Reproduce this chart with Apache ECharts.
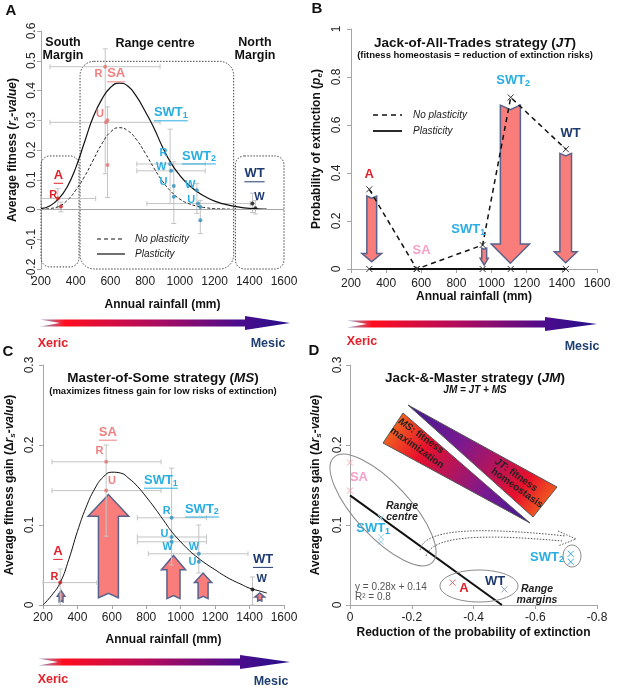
<!DOCTYPE html>
<html>
<head>
<meta charset="utf-8">
<script src="https://cdn.jsdelivr.net/npm/echarts@6/dist/echarts.min.js"></script>
<style>
	html, body { margin: 0; padding: 0; background: #fff; }
	#main { width: 620px; height: 688px; }
</style>
</head>
<body>
<div id="main"></div>
<script>
	// ---- data ----
	// panel A : fitted curves (annual rainfall, mm)
	var rain = [200, 250, 300, 350, 400, 450, 500, 550, 600, 650, 700, 750, 800, 850, 900, 950, 1000, 1050, 1100, 1150, 1200, 1250, 1300, 1350, 1400, 1450, 1500];
	var fitPlastic = [0.003, 0.012, 0.035, 0.075, 0.14, 0.225, 0.31, 0.37, 0.41, 0.425, 0.415, 0.38, 0.33, 0.275, 0.21, 0.155, 0.115, 0.083, 0.06, 0.042, 0.028, 0.019, 0.012, 0.007, 0.004, 0.002, 0.001];
	var fitNoPlastic = [0, 0.003, 0.01, 0.03, 0.065, 0.11, 0.165, 0.22, 0.26, 0.275, 0.265, 0.235, 0.19, 0.14, 0.095, 0.06, 0.035, 0.02, 0.011, 0.006, 0.003, 0.002, 0.001, 0, 0, 0, 0];
	// panel A points : x, y, xLow, xHigh, yLow, yHigh, population
	var pointsA = [
		[297, 0.037, 200, 515, 0.005, 0.07, 'A'],
		[315, 0.01, null, null, -0.008, 0.025, 'A'],
		[570, 0.48, 252, 886, 0.12, 0.54, 'SA'],
		[575, 0.293, 252, 886, null, null, 'SA'],
		[583, 0.30, null, null, 0.04, 0.345, 'SA'],
		[583, 0.15, null, null, null, null, 'SA'],
		[944, 0.153, 752, 1146, 0.02, 0.27, 'SWT1'],
		[950, 0.13, 752, 1146, null, null, 'SWT1'],
		[965, 0.079, null, null, -0.047, 0.16, 'SWT1'],
		[965, 0.043, null, null, null, null, 'SWT1'],
		[1098, 0.065, null, null, -0.013, 0.088, 'SWT2'],
		[1105, 0.02, 810, 1405, null, null, 'SWT2'],
		[1118, 0.008, null, null, null, null, 'SWT2'],
		[1118, -0.036, null, null, -0.081, 0.031, 'SWT2'],
		[1418, 0.02, null, null, -0.01, 0.055, 'WT'],
		[1435, 0.004, null, null, -0.015, 0.03, 'WT']
	];
	var tagsA = [[271, 0.048, 'R', 'A'], [531, 0.456, 'R', 'SA'], [540, 0.32, 'U', 'SA'], [905, 0.19, 'R', 'SWT1'], [892, 0.144, 'W', 'SWT1'], [905, 0.093, 'U', 'SWT1'], [1060, 0.084, 'W', 'SWT2'], [1065, 0.031, 'U', 'SWT2'], [1458, 0.043, 'W', 'WT']];
	var namesA = [[300, 0.115, 'A'], [633, 0.456, 'SA'], [948, 0.325, 'SWT1'], [1110, 0.18, 'SWT2'], [1430, 0.12, 'WT']];
	// zones : xFrom, xTo, yFrom, yTo
	var zonesA = [[200, 419, -0.193, 0.18], [425, 1310, -0.2, 0.498], [1320, 1600, -0.2, 0.18]];

	// panel B : probability of extinction
	var rainB = [304, 574, 949, 1109, 1423];
	var extNoPlastic = [0.332, 0, 0.1, 0.715, 0.499];
	var extPlastic = [0, 0, 0, 0, 0];
	// arrows : x, from, head start, tip, shaft half width, head half width (mm)
	var arrowsB = [[318, 0.304, 0.065, 0.03, 28, 56], [958, 0.087, 0.045, 0.017, 14, 23], [1107, 0.683, 0.104, 0.024, 57, 109], [1422, 0.482, 0.072, 0.026, 33, 65]];
	var namesB = [[304, 0.395, 'A'], [602, 0.076, 'SA'], [867, 0.165, 'SWT1'], [1123, 0.787, 'SWT2'], [1450, 0.565, 'WT']];

	// panel C : fitness gain
	var fitGain = [0, 0.012, 0.028, 0.057, 0.092, 0.122, 0.145, 0.16, 0.166, 0.165, 0.158, 0.148, 0.135, 0.121, 0.106, 0.091, 0.079, 0.068, 0.059, 0.051, 0.044, 0.037, 0.031, 0.026, 0.021, 0.018, 0.015];
	var pointsC = [
		[300, 0.028, 200, 513, 0, 0.045, 'A'],
		[567, 0.179, 252, 886, 0.086, 0.2, 'SA'],
		[567, 0.143, 252, 886, null, null, 'SA'],
		[947, 0.109, 748, 1150, 0.05, 0.171, 'SWT1'],
		[947, 0.085, 748, 1150, null, null, 'SWT1'],
		[947, 0.079, 748, 1150, null, null, 'SWT1'],
		[1105, 0.064, 812, 1391, 0.04, 0.1, 'SWT2'],
		[1105, 0.054, null, null, null, null, 'SWT2'],
		[1417, 0.0195, null, null, 0, 0.035, 'WT']
	];
	var arrowsC = [[305, 0.004, 0.011, 0.018, 11, 22], [580, 0.009, 0.111, 0.138, 58, 118], [958, 0.008, 0.044, 0.062, 38, 70], [1130, 0.008, 0.028, 0.04, 29, 50], [1459, 0.005, 0.01, 0.015, 12, 28]];
	var tagsC = [[266, 0.035, 'R', 'A'], [528, 0.192, 'R', 'SA'], [600, 0.155, 'U', 'SA'], [918, 0.117, 'R', 'SWT1'], [905, 0.089, 'U', 'SWT1'], [924, 0.073, 'W', 'SWT1'], [1077, 0.073, 'W', 'SWT2'], [1069, 0.054, 'U', 'SWT2'], [1471, 0.033, 'W', 'WT']];
	var namesC = [[287, 0.067, 'A'], [577, 0.216, 'SA'], [885, 0.156, 'SWT1'], [1123, 0.12, 'SWT2'], [1478, 0.057, 'WT']];

	// panel D : gain vs reduction of extinction probability
	var pointsD = [[0, 0.178, 'SA'], [0, 0.143, 'SA'], [-0.1, 0.109, 'SWT1'], [-0.1, 0.085, 'SWT1'], [-0.1, 0.079, 'SWT1'], [-0.715, 0.064, 'SWT2'], [-0.715, 0.054, 'SWT2'], [-0.332, 0.028, 'A'], [-0.5, 0.0195, 'WT']];
	var regressionD = [[0, 0.137], [-0.492, 0]];
	var namesD = [[-0.029, 0.159, 'SA'], [-0.075, 0.096, 'SWT1'], [-0.638, 0.06, 'SWT2'], [-0.369, 0.021, 'A'], [-0.47, 0.029, 'WT']];

	// ---- styles ----
	var FONT = '"Liberation Sans", Arial, sans-serif';
	var nameCol = {A: '#e3212b', SA: '#f08080', SWT1: '#2aaee2', SWT2: '#2aaee2', WT: '#1f3a6e'};
	var nameColPink = {A: '#e3212b', SA: '#f4a0c8', SWT1: '#2aaee2', SWT2: '#2aaee2', WT: '#1f3a6e'};
	var dotCol = {A: '#cc2020', SA: '#e07474', SWT1: '#2a8fbf', SWT2: '#2a8fbf', WT: '#111111'};
	var crossCol = {A: '#ee6464', SA: '#f5a8b8', SWT1: '#9fd8f0', SWT2: '#35aade', WT: '#8a9ab8'};

	var cv = document.createElement('canvas').getContext('2d');
	function tw(str, size) {
		cv.font = 'bold ' + size + 'px ' + FONT;
		return cv.measureText(str).width;
	}
	function seg(x1, y1, x2, y2, st) {
		return {type: 'line', shape: {x1: x1, y1: y1, x2: x2, y2: y2}, style: st};
	}

	function nameRender(list, cols, underline) {
		return function (params, api) {
			var d = list[params.dataIndex];
			var p = api.coord([d[0], d[1]]);
			var m = d[2].match(/^(\D+)(\d?)$/);
			var col = cols[d[2]];
			var txt = '{m|' + m[1] + '}' + (m[2] ? '{s|' + m[2] + '}' : '');
			var w = tw(m[1], 13) + (m[2] ? tw(m[2], 9) : 0);
			var ch = [{
				type: 'text', x: p[0], y: p[1],
				style: {
					text: txt, align: 'center', verticalAlign: 'middle', fill: col,
					rich: {
						m: {fontSize: 13, fontWeight: 'bold', fontFamily: FONT, fill: col, lineHeight: 15},
						s: {fontSize: 9, fontWeight: 'bold', fontFamily: FONT, fill: col, lineHeight: 9, verticalAlign: 'bottom'}
					}
				}
			}];
			if (underline) {
				ch.push(seg(p[0] - w / 2, p[1] + 8, p[0] + w / 2, p[1] + 8, {stroke: col, lineWidth: 1}));
			}
			return {type: 'group', children: ch};
		};
	}
	function tagRender(list) {
		return function (params, api) {
			var d = list[params.dataIndex];
			var p = api.coord([d[0], d[1]]);
			return {type: 'text', x: p[0], y: p[1], style: {text: d[2], align: 'center', verticalAlign: 'middle', fill: nameCol[d[3]], fontSize: 11, fontWeight: 'bold', fontFamily: FONT}};
		};
	}
	function errRender(list) {
		return function (params, api) {
			var d = list[params.dataIndex], ch = [], cap = 2.5;
			var st = {stroke: '#c4c4c4', lineWidth: 1};
			if (d[2] != null) {
				var a = api.coord([d[2], d[1]]), b = api.coord([d[3], d[1]]);
				ch.push(seg(a[0], a[1], b[0], b[1], st), seg(a[0], a[1] - cap, a[0], a[1] + cap, st), seg(b[0], b[1] - cap, b[0], b[1] + cap, st));
			}
			if (d[4] != null) {
				var c = api.coord([d[0], d[4]]), e = api.coord([d[0], d[5]]);
				ch.push(seg(c[0], c[1], e[0], e[1], st), seg(c[0] - cap, c[1], c[0] + cap, c[1], st), seg(e[0] - cap, e[1], e[0] + cap, e[1], st));
			}
			return {type: 'group', children: ch};
		};
	}
	function arrowRender(list) {
		return function (params, api) {
			var d = list[params.dataIndex];
			var c0 = api.coord([d[0], d[1]]), chd = api.coord([d[0], d[2]]), ct = api.coord([d[0], d[3]]);
			var hw = api.size([d[4], 0])[0], hh = api.size([d[5], 0])[0];
			var x = c0[0], dir = ct[1] > c0[1] ? 1 : -1;
			var notch = Math.min(hw * 0.45, Math.abs(chd[1] - c0[1]) * 0.4);
			var pts = [[x - hw, c0[1]], [x, c0[1] + dir * notch], [x + hw, c0[1]], [x + hw, chd[1]], [x + hh, chd[1]], [x, ct[1]], [x - hh, chd[1]], [x - hw, chd[1]]];
			return {type: 'polygon', shape: {points: pts}, style: {fill: '#f87d7b', stroke: '#58628c', lineWidth: 1.5}};
		};
	}
	function crossRender(list, cols, r) {
		return function (params, api) {
			var d = list[params.dataIndex];
			var p = api.coord([d[0], d[1]]);
			var st = {stroke: cols ? cols[d[2]] : '#333', lineWidth: 1};
			return {type: 'group', children: [seg(p[0] - r, p[1] - r, p[0] + r, p[1] + r, st), seg(p[0] - r, p[1] + r, p[0] + r, p[1] - r, st)]};
		};
	}
	function zoneRender(list) {
		return function (params, api) {
			var d = list[params.dataIndex];
			var a = api.coord([d[0], d[3]]), b = api.coord([d[1], d[2]]);
			return {type: 'rect', shape: {x: a[0], y: a[1], width: b[0] - a[0], height: b[1] - a[1], r: params.dataIndex === 1 ? 14 : 9},
				style: {fill: 'none', stroke: '#444', lineWidth: 1, lineDash: [1.5, 1.5]}};
		};
	}
	function xy(list) { return list.map(function (d) { return [d[0], d[1]]; }); }
	function zip(a, b) { return a.map(function (v, i) { return [v, b[i]]; }); }
	function plain(v) { return String(Math.round(v * 1000) / 1000); }

	var axisGrey = '#a6a6a6';
	var nameRich = {
		b: {fontSize: 12, fontWeight: 'bold', fontFamily: FONT, color: '#111', lineHeight: 15},
		bi: {fontSize: 12, fontWeight: 'bold', fontStyle: 'italic', fontFamily: FONT, color: '#111', lineHeight: 15},
		s: {fontSize: 8, fontWeight: 'bold', fontStyle: 'italic', fontFamily: FONT, color: '#111', lineHeight: 8, verticalAlign: 'bottom'}
	};
	function xAx(gi, min, max, interval, name, gap, line, margin, extra) {
		var ax = {
			gridIndex: gi, type: 'value', min: min, max: max, interval: interval,
			axisLine: {show: line, onZero: false, lineStyle: {color: axisGrey}},
			axisTick: {show: line, length: 4, lineStyle: {color: axisGrey}},
			axisLabel: {color: '#222', fontSize: 12, fontFamily: FONT, margin: margin, formatter: plain},
			splitLine: {show: false},
			name: name, nameLocation: 'middle', nameGap: gap,
			nameTextStyle: {fontSize: 12, fontWeight: 'bold', fontFamily: FONT, color: '#111'}
		};
		return Object.assign(ax, extra || {});
	}
	function yAx(gi, min, max, interval, name, gap, margin) {
		return {
			gridIndex: gi, type: 'value', min: min, max: max, interval: interval,
			axisLine: {show: true, onZero: false, lineStyle: {color: axisGrey}},
			axisTick: {show: true, length: 4, lineStyle: {color: axisGrey}},
			axisLabel: {color: '#222', fontSize: 12, fontFamily: FONT, rotate: 90, margin: margin, formatter: plain},
			splitLine: {show: false},
			name: name, nameLocation: 'middle', nameGap: gap, nameRotate: 90,
			nameTextStyle: {rich: nameRich}
		};
	}

	// ---- decorations (pixel space) ----
	function railArrow(x0, x1, yc, hs) {
		return {
			type: 'polygon', z: 10,
			shape: {points: [[x0, yc - 3.5], [hs, yc - 3.5], [hs, yc - 7], [x1, yc], [hs, yc + 7], [hs, yc + 3.5], [x0, yc + 3.5], [x0 + 20, yc]]},
			style: {fill: new echarts.graphic.LinearGradient(0, 0, 1, 0, [
				{offset: 0, color: '#93a6cc'}, {offset: 0.1, color: '#ff0d1e'}, {offset: 0.45, color: '#b00c5e'},
				{offset: 0.8, color: '#4a0c8c'}, {offset: 1, color: '#26108a'}])}
		};
	}
	function txt(x, y, s, size, extra, el) {
		return Object.assign({type: 'text', x: x, y: y, z: 10, style: Object.assign({text: s, fontSize: size, fontWeight: 'bold', fontFamily: FONT, fill: '#111', align: 'center', verticalAlign: 'middle'}, extra || {})}, el || {});
	}
	var titleRich = {
		b: {fontSize: 13.5, fontWeight: 'bold', fontFamily: FONT, fill: '#111'},
		bi: {fontSize: 13.5, fontWeight: 'bold', fontStyle: 'italic', fontFamily: FONT, fill: '#111'}
	};
	var smallRich = {
		b: {fontSize: 10, fontWeight: 'bold', fontFamily: FONT, fill: '#222'},
		bi: {fontSize: 10, fontWeight: 'bold', fontStyle: 'italic', fontFamily: FONT, fill: '#222'}
	};
	var wedgeMS = new echarts.graphic.LinearGradient(0, 0, 1, 1, [
		{offset: 0, color: '#f5841a'}, {offset: 0.3, color: '#e8102c'}, {offset: 0.7, color: '#7a1a90'}, {offset: 1, color: '#3b1a92'}]);
	var wedgeJT = new echarts.graphic.LinearGradient(0, 0, 1, 1, [
		{offset: 0, color: '#3b1a92'}, {offset: 0.35, color: '#7a1a90'}, {offset: 0.75, color: '#e8102c'}, {offset: 1, color: '#f5841a'}]);
	var dotted = {fill: 'none', stroke: '#555', lineWidth: 1, lineDash: [1.5, 1.5]};
	var rot = {rotation: -0.62};

	var graphics = [
		txt(11, 11, 'A', 15), txt(317, 9, 'B', 15), txt(8, 352, 'C', 15), txt(314, 351, 'D', 15),
		// panel A headings
		txt(63, 43, 'South', 12.5), txt(63, 56, 'Margin', 12.5), txt(155, 44, 'Range centre', 12.5),
		txt(255, 43, 'North', 12.5), txt(255, 56, 'Margin', 12.5),
		// panel A legend
		{type: 'line', z: 10, shape: {x1: 97, y1: 239, x2: 125, y2: 239}, style: {stroke: '#111', lineWidth: 1.2, lineDash: [4, 3]}},
		{type: 'line', z: 10, shape: {x1: 97, y1: 254, x2: 125, y2: 254}, style: {stroke: '#111', lineWidth: 1.2}},
		txt(135, 239, 'No plasticity', 10, {align: 'left', fontStyle: 'italic', fontWeight: 'normal', fill: '#222'}),
		txt(135, 254, 'Plasticity', 10, {align: 'left', fontStyle: 'italic', fontWeight: 'normal', fill: '#222'}),
		// panel B title + legend
		txt(475, 43, '{b|Jack-of-All-Trades strategy (}{bi|JT}{b|)}', 13.5, {rich: titleRich}),
		txt(475, 55, '(fitness homeostasis = reduction of extinction risks)', 9.5),
		{type: 'line', z: 10, shape: {x1: 373, y1: 115, x2: 402, y2: 115}, style: {stroke: '#111', lineWidth: 1.5, lineDash: [5, 4]}},
		{type: 'line', z: 10, shape: {x1: 373, y1: 131, x2: 402, y2: 131}, style: {stroke: '#111', lineWidth: 1.8}},
		txt(413, 115, 'No plasticity', 10, {align: 'left', fontStyle: 'italic', fontWeight: 'normal', fill: '#222'}),
		txt(413, 131, 'Plasticity', 10, {align: 'left', fontStyle: 'italic', fontWeight: 'normal', fill: '#222'}),
		// panel C title
		txt(163, 378, '{b|Master-of-Some strategy (}{bi|MS}{b|)}', 13.5, {rich: titleRich}),
		txt(163, 391, '(maximizes fitness gain for low risks of extinction)', 9.5),
		// panel D title
		txt(475, 378, '{b|Jack-&-Master strategy (}{bi|JM}{b|)}', 13.5, {rich: titleRich}),
		txt(475, 390, 'JM = JT + MS', 10, {fontStyle: 'italic'}),
		// xeric / mesic gradients
		railArrow(40, 290, 323, 245), txt(53, 344, 'Xeric', 12.5, {fill: '#e3212b'}), txt(268, 344, 'Mesic', 12.5, {fill: '#1f3f70'}),
		railArrow(347, 597, 324, 545), txt(362, 342, 'Xeric', 12.5, {fill: '#e3212b'}), txt(582, 347, 'Mesic', 12.5, {fill: '#1f3f70'}),
		railArrow(38, 290, 662, 240), txt(53, 680, 'Xeric', 12.5, {fill: '#e3212b'}), txt(271, 682, 'Mesic', 12.5, {fill: '#1f3f70'}),
		// panel D schematic
		{type: 'polygon', z: 5, shape: {points: [[403, 413], [383, 443], [530, 523]]}, style: {fill: wedgeMS, stroke: '#555', lineWidth: 1}},
		{type: 'polygon', z: 5, shape: {points: [[408, 405], [557, 487], [533, 517]]}, style: {fill: wedgeJT, stroke: '#555', lineWidth: 1}},
		txt(421, 436, '{bi|MS}{b|: fitness}', 10, {rich: smallRich}, rot),
		txt(417, 448, 'maximization', 10, {fill: '#222'}, rot),
		txt(516, 475, '{bi|JT}{b|: fitness}', 10, {rich: smallRich}, rot),
		txt(517, 488, 'homeostasis', 10, {fill: '#222'}, rot),
		{type: 'ellipse', z: 6, x: 383, y: 510, rotation: -47 * Math.PI / 180, shape: {cx: 0, cy: 0, rx: 72, ry: 27}, style: {fill: 'none', stroke: '#8a8a8a', lineWidth: 1}},
		{type: 'ellipse', z: 6, x: 479, y: 586, shape: {cx: 0, cy: 0, rx: 39, ry: 16}, style: {fill: 'none', stroke: '#8a8a8a', lineWidth: 1}},
		{type: 'ellipse', z: 6, x: 572, y: 556, shape: {cx: 0, cy: 0, rx: 9, ry: 11}, style: {fill: 'none', stroke: '#8a8a8a', lineWidth: 1}},
		{type: 'bezierCurve', z: 6, shape: {x1: 420, y1: 550, cpx1: 424, cpy1: 530, cpx2: 470, cpy2: 526, x2: 566, y2: 536}, style: dotted},
		{type: 'bezierCurve', z: 6, shape: {x1: 426, y1: 556, cpx1: 432, cpy1: 537, cpx2: 475, cpy2: 533, x2: 562, y2: 541}, style: dotted},
		{type: 'polyline', z: 6, shape: {points: [[558, 531], [576, 539], [558, 546]]}, style: dotted},
		txt(402, 506, 'Range', 10.5, {fontStyle: 'italic', fill: '#222'}),
		txt(402, 517, 'centre', 10.5, {fontStyle: 'italic', fill: '#222'}),
		txt(537, 589, 'Range', 10.5, {fontStyle: 'italic', fill: '#222'}),
		txt(537, 600, 'margins', 10.5, {fontStyle: 'italic', fill: '#222'}),
		txt(355, 587, 'y = 0.28x + 0.14', 10, {align: 'left', fontWeight: 'normal', fill: '#555'}),
		txt(355, 597, 'R\u00b2 = 0.8', 10, {align: 'left', fontWeight: 'normal', fill: '#555'})
	];

	var myChart = echarts.init(document.getElementById('main'), null, {renderer: 'canvas', width: 620, height: 688});
	var option = {
		animation: false,
		backgroundColor: '#fff',
		textStyle: {fontFamily: FONT},
		grid: [
			{left: 41, top: 31, width: 243, height: 238},
			{left: 351, top: 29, width: 246, height: 240},
			{left: 43, top: 365, width: 241, height: 240},
			{left: 350, top: 365, width: 247, height: 240}
		],
		xAxis: [
			xAx(0, 200, 1600, 200, 'Annual rainfall (mm)', 30, false, 7),
			xAx(1, 200, 1600, 200, 'Annual rainfall (mm)', 21, true, 9),
			xAx(2, 200, 1600, 200, 'Annual rainfall (mm)', 29, true, 7),
			xAx(3, -0.8, 0, 0.2, 'Reduction of the probability of extinction', 22, true, 7, {inverse: true})
		],
		yAxis: [
			yAx(0, -0.2, 0.6, 0.1, '{b|Average fitness (}{bi|r}{s|s}{bi|-value}{b|)}', 21, 3),
			yAx(1, 0, 1, 0.2, '{b|Probability of extinction (}{bi|p}{s|e}{b|)}', 27, 8),
			yAx(2, 0, 0.3, 0.1, '{b|Average fitness gain (\u0394}{bi|r}{s|s}{bi|-value}{b|)}', 26, 7),
			yAx(3, 0, 0.3, 0.1, '{b|Average fitness gain (\u0394}{bi|r}{s|s}{bi|-value}{b|)}', 27, 6)
		],
		graphic: {elements: graphics},
		series: [
			// ---- A ----
			{type: 'custom', xAxisIndex: 0, yAxisIndex: 0, z: 1, clip: false, renderItem: zoneRender(zonesA), data: zonesA.map(function (d) { return [d[0], d[2]]; })},
			{type: 'line', xAxisIndex: 0, yAxisIndex: 0, z: 2, data: zip(rain, fitNoPlastic), symbol: 'none', smooth: true,
				lineStyle: {color: '#222', width: 1, type: [3, 2]},
				markLine: {silent: true, symbol: 'none', label: {show: false}, lineStyle: {color: axisGrey, type: 'solid', width: 1}, data: [{yAxis: 0}]}},
			{type: 'line', xAxisIndex: 0, yAxisIndex: 0, z: 3, data: zip(rain, fitPlastic), symbol: 'none', smooth: true, lineStyle: {color: '#111', width: 1.2}},
			{type: 'custom', xAxisIndex: 0, yAxisIndex: 0, z: 2, renderItem: errRender(pointsA), data: xy(pointsA)},
			{type: 'scatter', xAxisIndex: 0, yAxisIndex: 0, z: 4, symbolSize: 4, data: xy(pointsA),
				itemStyle: {color: function (p) { return dotCol[pointsA[p.dataIndex][6]]; }}},
			{type: 'custom', xAxisIndex: 0, yAxisIndex: 0, z: 5, clip: false, renderItem: tagRender(tagsA), data: xy(tagsA)},
			{type: 'custom', xAxisIndex: 0, yAxisIndex: 0, z: 5, clip: false, renderItem: nameRender(namesA, nameCol, true), data: xy(namesA)},
			// ---- B ----
			{type: 'custom', xAxisIndex: 1, yAxisIndex: 1, z: 2, clip: false, renderItem: arrowRender(arrowsB), data: xy(arrowsB)},
			{type: 'line', xAxisIndex: 1, yAxisIndex: 1, z: 3, data: zip(rainB, extPlastic), symbol: 'none', lineStyle: {color: '#111', width: 1.8}},
			{type: 'line', xAxisIndex: 1, yAxisIndex: 1, z: 4, data: zip(rainB, extNoPlastic), symbol: 'none', lineStyle: {color: '#111', width: 1.5, type: [5, 4]}},
			{type: 'custom', xAxisIndex: 1, yAxisIndex: 1, z: 5, clip: false, renderItem: crossRender(zip(rainB, extNoPlastic), null, 3), data: zip(rainB, extNoPlastic)},
			{type: 'custom', xAxisIndex: 1, yAxisIndex: 1, z: 5, clip: false, renderItem: crossRender(zip(rainB, extPlastic), null, 3), data: zip(rainB, extPlastic)},
			{type: 'custom', xAxisIndex: 1, yAxisIndex: 1, z: 5, clip: false, renderItem: nameRender(namesB, nameColPink, false), data: xy(namesB)},
			// ---- C ----
			{type: 'custom', xAxisIndex: 2, yAxisIndex: 2, z: 1, clip: false, renderItem: arrowRender(arrowsC), data: xy(arrowsC)},
			{type: 'line', xAxisIndex: 2, yAxisIndex: 2, z: 3, data: zip(rain, fitGain), symbol: 'none', smooth: true, lineStyle: {color: '#111', width: 1}},
			{type: 'custom', xAxisIndex: 2, yAxisIndex: 2, z: 2, renderItem: errRender(pointsC), data: xy(pointsC)},
			{type: 'scatter', xAxisIndex: 2, yAxisIndex: 2, z: 4, symbolSize: 4, data: xy(pointsC),
				itemStyle: {color: function (p) { return dotCol[pointsC[p.dataIndex][6]]; }}},
			{type: 'custom', xAxisIndex: 2, yAxisIndex: 2, z: 5, clip: false, renderItem: tagRender(tagsC), data: xy(tagsC)},
			{type: 'custom', xAxisIndex: 2, yAxisIndex: 2, z: 5, clip: false, renderItem: nameRender(namesC, nameCol, true), data: xy(namesC)},
			// ---- D ----
			{type: 'line', xAxisIndex: 3, yAxisIndex: 3, z: 3, data: regressionD, symbol: 'none', lineStyle: {color: '#111', width: 2}},
			{type: 'custom', xAxisIndex: 3, yAxisIndex: 3, z: 4, clip: false, renderItem: crossRender(pointsD, crossCol, 3), data: xy(pointsD)},
			{type: 'custom', xAxisIndex: 3, yAxisIndex: 3, z: 5, clip: false, renderItem: nameRender(namesD, nameColPink, false), data: xy(namesD)}
		]
	};
	myChart.setOption(option);
</script>
</body>
</html>
